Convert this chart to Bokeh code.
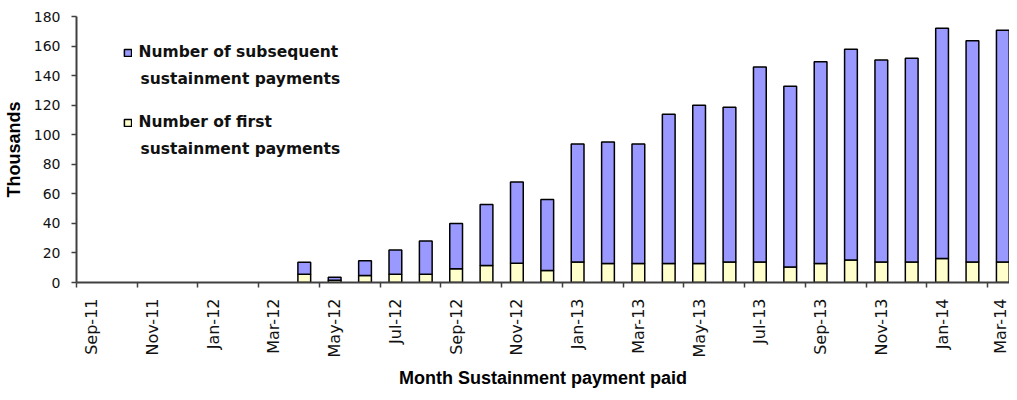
import math
from bokeh.plotting import figure
from bokeh.models import (Range1d, FixedTicker, Legend, LegendItem,
                          ColumnDataSource, Label)
from bokeh.embed import file_html
from bokeh.resources import INLINE

months = ["Sep-11", "Oct-11", "Nov-11", "Dec-11", "Jan-12", "Feb-12", "Mar-12",
          "Apr-12", "May-12", "Jun-12", "Jul-12", "Aug-12", "Sep-12", "Oct-12",
          "Nov-12", "Dec-12", "Jan-13", "Feb-13", "Mar-13", "Apr-13", "May-13",
          "Jun-13", "Jul-13", "Aug-13", "Sep-13", "Oct-13", "Nov-13", "Dec-13",
          "Jan-14", "Feb-14", "Mar-14"]

# thousands of payments
first = [0, 0, 0, 0, 0, 0, 0,
         5.5, 1.5, 4.8, 5.5, 5.5, 9.3, 11.5,
         13.0, 8.2, 13.8, 12.8, 12.8, 12.8, 12.8,
         13.8, 13.8, 10.5, 12.8, 15.2, 13.8, 13.8,
         16.2, 13.8, 13.8]
subsequent = [0, 0, 0, 0, 0, 0, 0,
              8.2, 2.0, 10.0, 16.5, 22.5, 30.6, 41.3,
              55.0, 48.0, 80.0, 82.2, 81.0, 101.0, 107.2,
              104.8, 132.0, 122.3, 136.6, 142.7, 136.7, 138.0,
              155.9, 149.8, 156.9]

legend_lines_subsequent = ["Number of subsequent", "sustainment payments"]
legend_lines_first = ["Number of first", "sustainment payments"]
y_ticks = [0, 20, 40, 60, 80, 100, 120, 140, 160, 180]

BLUE = "#9999FF"
YELLOW = "#FFFFCC"
AXIS = "#404040"

n = len(months)
xs = [i + 0.5 for i in range(n)]
outline = [0.0 if (f + s) == 0 else 1.0 for f, s in zip(first, subsequent)]
source = ColumnDataSource(dict(x=xs, first=first, subsequent=subsequent,
                               outline=outline))

W, H = 1009, 392
FRAME_LEFT, FRAME_TOP, FRAME_BOTTOM = 76, 16, 282

p = figure(width=W, height=H, output_backend="svg", toolbar_location=None,
           x_range=Range1d(0, 30.72), y_range=Range1d(0, 180),
           min_border_left=FRAME_LEFT, min_border_right=0,
           min_border_top=FRAME_TOP, min_border_bottom=H - FRAME_BOTTOM)

rs = p.vbar_stack(["first", "subsequent"], x="x", width=0.42, source=source,
                  fill_color=[YELLOW, BLUE], line_color="black",
                  line_width=1.5, line_alpha="outline")

p.xgrid.visible = False
p.ygrid.visible = False
p.outline_line_color = None
p.background_fill_color = "white"
p.border_fill_color = "white"

# x axis: labels at category centres, tick marks at category boundaries
major = [i + 0.5 for i in range(0, n, 2)]
minor = [i for i in range(0, n, 2)]
p.xaxis.ticker = FixedTicker(ticks=major, minor_ticks=minor)
p.xaxis.major_label_overrides = {i + 0.5: months[i] for i in range(0, n, 2)}
p.xaxis.major_label_orientation = math.pi / 2
p.xaxis.major_tick_out = 0
p.xaxis.major_tick_in = 0
p.xaxis.minor_tick_out = 5
p.xaxis.minor_tick_in = 0
p.xaxis.minor_tick_line_color = AXIS
p.xaxis.minor_tick_line_width = 1.5
p.xaxis.axis_line_color = AXIS
p.xaxis.axis_line_width = 2
p.xaxis.major_label_standoff = 11
p.xaxis.major_label_text_font = "DejaVu Sans"
p.xaxis.major_label_text_font_size = "16px"
p.xaxis.major_label_text_color = "#111111"
p.xaxis.axis_label = "Month Sustainment payment paid"
p.xaxis.axis_label_text_font = "Liberation Sans"
p.xaxis.axis_label_text_font_style = "bold"
p.xaxis.axis_label_text_font_size = "18px"
p.xaxis.axis_label_text_color = "#000000"
p.xaxis.axis_label_standoff = 8

p.yaxis.ticker = FixedTicker(ticks=y_ticks)
p.yaxis.minor_tick_line_color = None
p.yaxis.major_tick_out = 5
p.yaxis.major_tick_in = 0
p.yaxis.major_tick_line_color = AXIS
p.yaxis.major_tick_line_width = 1.5
p.yaxis.axis_line_color = AXIS
p.yaxis.axis_line_width = 2
p.yaxis.major_label_standoff = 11
p.yaxis.major_label_text_font = "DejaVu Sans"
p.yaxis.major_label_text_font_size = "14px"
p.yaxis.major_label_text_color = "#111111"
p.yaxis.axis_label = "Thousands"
p.yaxis.axis_label_text_font = "Liberation Sans"
p.yaxis.axis_label_text_font_style = "bold"
p.yaxis.axis_label_text_font_size = "18px"
p.yaxis.axis_label_text_color = "#000000"
p.yaxis.axis_label_standoff = 7

LEG_FONT = "15.5px"
legend = Legend(items=[LegendItem(label=legend_lines_subsequent[0],
                                  renderers=[rs[1]], index=n - 1),
                       LegendItem(label=legend_lines_first[0],
                                  renderers=[rs[0]], index=n - 1)],
                location=(46.5, 148), padding=0, margin=0, spacing=46,
                glyph_width=9, glyph_height=9, label_height=24,
                label_standoff=7,
                label_text_font="DejaVu Sans", label_text_font_style="bold",
                label_text_font_size=LEG_FONT, label_text_color="#111111",
                border_line_color=None, background_fill_alpha=0)
p.add_layout(legend)

for text, y in ((legend_lines_subsequent[1], 203.5), (legend_lines_first[1], 134)):
    p.add_layout(Label(x=64, y=y, x_units="screen", y_units="screen", text=text,
                       text_font="DejaVu Sans", text_font_style="bold",
                       text_font_size=LEG_FONT, text_color="#111111",
                       text_baseline="alphabetic", text_align="left"))

open("out.html", "w").write(file_html(p, INLINE))
